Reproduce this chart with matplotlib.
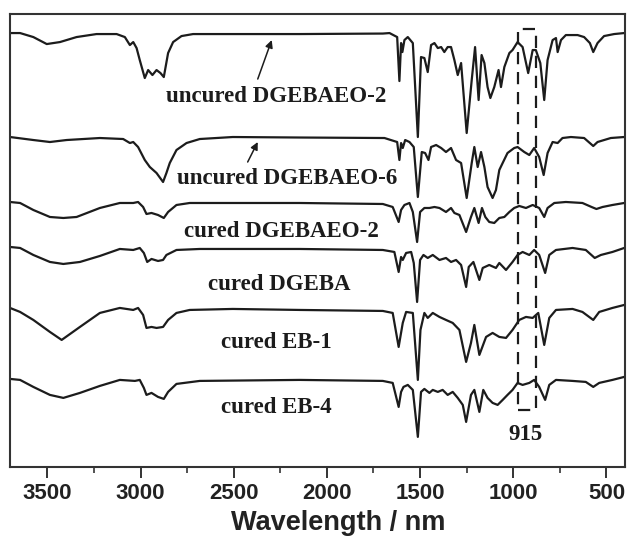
import matplotlib
matplotlib.use("Agg")
import matplotlib.pyplot as plt
from matplotlib.patches import Rectangle

# FTIR traces (wavenumber, offset transmittance in a.u.), top to bottom
wn_uncured2 = [3700, 3646, 3575, 3503, 3432, 3343, 3236, 3128, 3084, 3057, 3039, 3021, 3004, 2977,
               2959, 2936, 2914, 2893, 2875, 2852, 2825, 2780, 2718, 2146, 1700, 1664, 1623, 1611,
               1602, 1595, 1584, 1566, 1539, 1512, 1495, 1477, 1459, 1441, 1423, 1405, 1387, 1370,
               1352, 1334, 1316, 1298, 1280, 1250, 1223, 1205, 1186, 1170, 1155, 1138, 1123, 1102,
               1079, 1066, 1048, 1021, 1004, 977, 950, 920, 896, 879, 855, 834, 816, 789, 771, 762,
               744, 718, 655, 620, 589, 571, 548, 513, 459, 405]
t_uncured2 = [434, 434, 430, 423, 425, 430, 433, 433, 430, 422, 425, 419, 407, 389,
              397, 392, 397, 394, 390, 414, 425, 431, 433, 433, 433.5, 434, 430, 386,
              424, 415, 427, 430, 424, 330, 410, 409, 395, 422, 424, 419, 420, 415,
              420, 420, 407, 392, 404, 334, 387, 420, 367, 412, 404, 380, 369, 380,
              397, 380, 400, 414, 417, 425, 420, 394, 417, 417, 404, 367, 407, 427, 429, 415,
              427, 432, 432, 430, 424, 415, 424, 431, 433, 434]

wn_uncured6 = [3700, 3575, 3486, 3396, 3218, 3093, 3057, 3039, 3013, 2977, 2950, 2914, 2879, 2861,
               2843, 2807, 2753, 2682, 2505, 2146, 1691, 1623, 1611, 1602, 1593, 1580, 1557, 1534,
               1512, 1491, 1473, 1455, 1441, 1414, 1387, 1361, 1334, 1307, 1280, 1250, 1223, 1209,
               1191, 1173, 1155, 1138, 1111, 1093, 1075, 1057, 1031, 995, 977, 941, 914, 888, 861,
               837, 816, 789, 762, 736, 691, 620, 571, 548, 477, 405]
t_uncured6 = [330, 327, 325, 327, 329, 328, 324, 325, 320, 307, 300, 294, 285, 294,
              304, 317, 324, 328, 330, 329.5, 329, 325, 307, 324, 319, 327, 325, 320,
              270, 315, 314, 307, 320, 322, 319, 315, 319, 307, 304, 269, 304, 320,
              300, 315, 300, 280, 269, 277, 297, 304, 314, 319, 320, 315, 312, 319, 310,
              292, 314, 325, 324, 329, 330, 329, 321, 325, 329, 330]

wn_cured2 = [3700, 3646, 3575, 3486, 3414, 3343, 3218, 3111, 3039, 3013, 2986, 2968, 2941, 2906,
             2875, 2852, 2807, 2736, 2505, 2146, 1700, 1647, 1615, 1602, 1584, 1557, 1539, 1516,
             1500, 1477, 1450, 1423, 1396, 1361, 1334, 1316, 1289, 1253, 1227, 1209, 1186, 1168,
             1150, 1129, 1102, 1075, 1048, 1021, 995, 968, 932, 896, 861, 834, 816, 780, 718, 629,
             580, 554, 521, 468, 405]
t_cured2 = [265, 264, 257, 250, 249, 250, 259, 264, 264, 265, 260, 253, 254, 252,
            249, 255, 262, 264, 264, 264, 263, 260, 245, 257, 262, 264, 255, 225,
            255, 259, 259, 260, 259, 255, 259, 254, 252, 235, 250, 259, 244, 259,
            250, 245, 244, 249, 250, 255, 259, 261, 259, 262, 259, 250, 259, 264, 265, 264,
            260, 258, 260, 262, 264]

wn_dgeba = [3700, 3646, 3575, 3486, 3414, 3325, 3218, 3111, 3039, 3004, 2982, 2964, 2941, 2906,
            2879, 2861, 2807, 2682, 2146, 1700, 1638, 1615, 1602, 1593, 1575, 1548, 1534, 1516,
            1500, 1482, 1459, 1432, 1396, 1361, 1334, 1307, 1280, 1253, 1239, 1214, 1182, 1164,
            1129, 1093, 1075, 1039, 1004, 977, 950, 914, 888, 861, 829, 807, 771, 682, 611, 563,
            530, 468, 405]
t_dgeba = [220, 219, 212, 205, 203, 205, 211, 218, 217, 219, 214, 205, 208, 206,
           207, 212, 217, 218, 218, 217, 215, 195, 210, 207, 214, 215, 204, 165,
           207, 212, 209, 212, 207, 209, 205, 207, 202, 180, 200, 205, 187, 199,
           202, 199, 204, 197, 205, 212, 215, 212, 217, 212, 194, 212, 217, 219, 217, 209,
           212, 215, 219]

wn_eb1 = [3700, 3646, 3575, 3486, 3423, 3325, 3218, 3111, 3039, 3013, 2986, 2968, 2941, 2914,
          2879, 2852, 2807, 2736, 2505, 2146, 1700, 1647, 1615, 1593, 1575, 1539, 1512, 1498,
          1477, 1459, 1432, 1396, 1361, 1325, 1289, 1253, 1227, 1209, 1182, 1146, 1111, 1075,
          1039, 1004, 968, 932, 896, 866, 834, 807, 771, 682, 629, 571, 539, 468, 405]
t_eb1 = [159, 155, 147, 135, 127, 140, 154, 159, 157, 159, 152, 139, 140, 139,
         140, 147, 154, 157, 158, 157, 156, 154, 120, 144, 155, 154, 87, 137,
         154, 149, 154, 150, 147, 144, 137, 105, 124, 142, 112, 130, 134, 130,
         129, 137, 147, 150, 149, 154, 122, 149, 157, 158, 155, 147, 155, 159, 162]

wn_eb4 = [3700, 3646, 3575, 3486, 3414, 3325, 3218, 3111, 3030, 3004, 2982, 2968, 2941, 2906,
          2875, 2852, 2807, 2682, 2146, 1700, 1647, 1615, 1602, 1589, 1566, 1539, 1512, 1495,
          1477, 1450, 1432, 1405, 1379, 1352, 1325, 1298, 1271, 1253, 1227, 1209, 1182, 1161,
          1138, 1111, 1084, 1057, 1031, 1004, 977, 950, 914, 888, 861, 829, 807, 771, 682, 611,
          571, 539, 468, 405]
t_eb4 = [88, 87, 80, 72, 69, 74, 81, 87, 86, 87, 79, 72, 74, 70,
         68, 75, 83, 86, 87, 86, 84, 60, 75, 80, 82, 77, 30, 75,
         78, 74, 77, 75, 77, 72, 75, 69, 62, 45, 72, 77, 55, 77,
         69, 64, 62, 67, 72, 77, 84, 82, 84, 87, 80, 67, 82, 87, 86, 85,
         80, 84, 87, 90]

spectra = [(wn_uncured2, t_uncured2), (wn_uncured6, t_uncured6), (wn_cured2, t_cured2),
           (wn_dgeba, t_dgeba), (wn_eb1, t_eb1), (wn_eb4, t_eb4)]
names = ["uncured DGEBAEO-2", "uncured DGEBAEO-6", "cured DGEBAEO-2",
         "cured DGEBA", "cured EB-1", "cured EB-4"]
label_x = [2272, 2213, 2243, 2256, 2272, 2272]
label_y = [365, 283, 230, 177, 119, 54]

fig = plt.figure(figsize=(6.27, 5.41), dpi=100)
ax = fig.add_axes([0.016, 0.137, 0.981, 0.837])

ink = "#1c1c1c"
for wn, t in spectra:
    ax.plot(wn, t, color=ink, lw=1.6, solid_joinstyle="round")

serif = dict(family="Liberation Serif", weight="bold", size=16.5, color=ink)
for name, lx, ly in zip(names, label_x, label_y):
    ax.text(lx, ly, name, ha="center", va="baseline", **serif)

# arrows pointing at the flat baseline of the two uncured resins
arrow = dict(arrowstyle="-|>", color=ink, lw=1.1, mutation_scale=11, shrinkA=0, shrinkB=0)
ax.annotate("", xy=(2296, 427), xytext=(2371, 388), arrowprops=arrow)
ax.annotate("", xy=(2371, 325), xytext=(2425, 305), arrowprops=arrow)

# epoxide ring band
ax.add_patch(Rectangle((975, 57), -95, 381, fill=False, ec=ink, lw=1.6,
                       ls=(0, (5.5, 3.5))))
ax.text(936, 27, "915", ha="center", va="baseline", **serif)

ax.set_xlim(3700, 400)
ax.set_ylim(0, 453)
ax.set_yticks([])
ax.set_xticks(range(3500, 400, -500))
ax.set_xticks(range(3250, 400, -500), minor=True)
ax.tick_params(axis="x", which="major", direction="out", length=8, width=1.4, color="#333333")
ax.tick_params(axis="x", which="minor", direction="out", length=4.5, width=1.2, color="#333333")
for lab in ax.get_xticklabels():
    lab.set_family("Liberation Sans")
    lab.set_fontweight("bold")
    lab.set_fontsize(16)
    lab.set_color("#222222")
for sp in ax.spines.values():
    sp.set_linewidth(1.5)
    sp.set_color("#333333")
ax.set_xlabel("Wavelength / nm", family="Liberation Sans", weight="bold", size=19.5,
              color="#222222")
ax.xaxis.set_label_coords(0.533, -0.095)

fig.savefig("out.png", dpi=100)
